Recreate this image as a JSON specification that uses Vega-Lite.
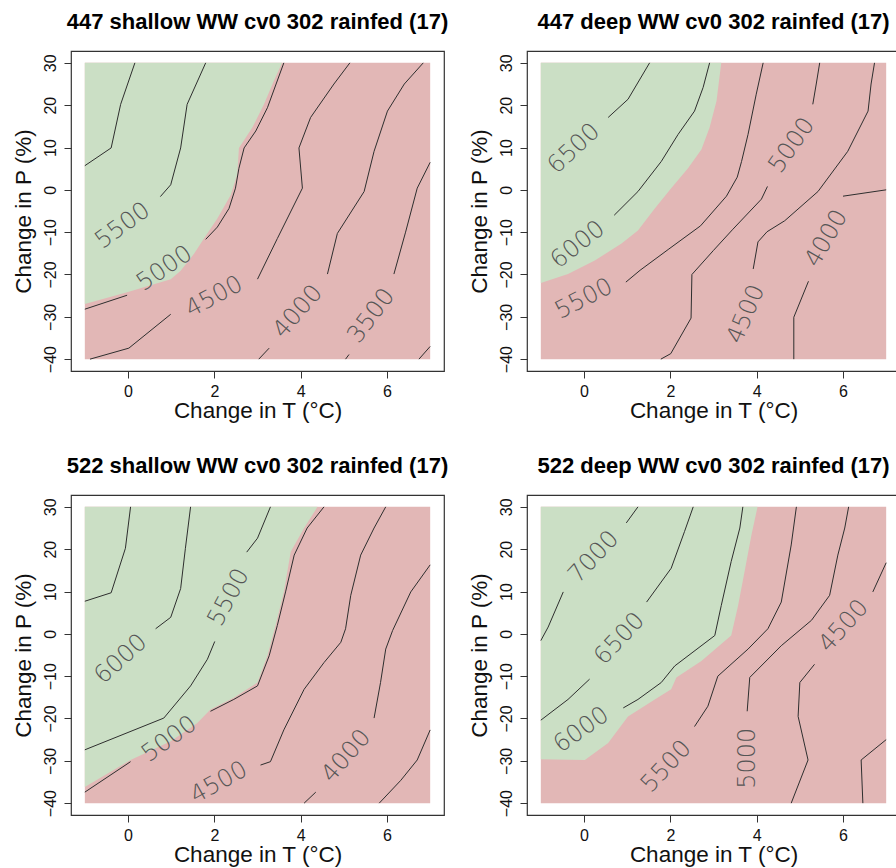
{
  "$schema": "https://vega.github.io/schema/vega-lite/v6.json",
  "padding": {"left": 11, "top": 10, "right": 0, "bottom": 0},
  "background": "white",
  "columns": 2,
  "spacing": {"row": 124, "column": 83},
  "bounds": "flush",
  "datasets": {
    "d": [
      {"p":"a","k":"r","x":-1,"y":-40},{"p":"b","k":"r","x":-1,"y":-40},{"p":"c","k":"r","x":-1,"y":-40},{"p":"d","k":"r","x":-1,"y":-40},
      {"p":"a","k":"g","x":-1,"y":-27.0},{"p":"a","k":"g","x":-0.02,"y":-24.2},{"p":"a","k":"g","x":0.99,"y":-21.1},{"p":"a","k":"g","x":1.22,"y":-19.1},{"p":"a","k":"g","x":1.53,"y":-15.1},{"p":"a","k":"g","x":1.76,"y":-11.5},{"p":"a","k":"g","x":2.07,"y":-6.8},{"p":"a","k":"g","x":2.38,"y":-1.2},{"p":"a","k":"g","x":2.53,"y":3.6},{"p":"a","k":"g","x":2.57,"y":9.9},{"p":"a","k":"g","x":2.88,"y":14.7},{"p":"a","k":"g","x":3.15,"y":20.2},{"p":"a","k":"g","x":3.38,"y":25.8},{"p":"a","k":"g","x":3.57,"y":30},
      {"p":"a","k":"l","s":"a1","x":-1,"y":5.7},{"p":"a","k":"l","s":"a1","x":-0.39,"y":9.9},{"p":"a","k":"l","s":"a1","x":-0.17,"y":20.2},{"p":"a","k":"l","s":"a1","x":0.16,"y":30},
      {"p":"a","k":"l","s":"a2","x":0.75,"y":-1.6},{"p":"a","k":"l","s":"a2","x":0.99,"y":1.2},{"p":"a","k":"l","s":"a2","x":1.22,"y":9.9},{"p":"a","k":"l","s":"a2","x":1.37,"y":20.2},{"p":"a","k":"l","s":"a2","x":1.80,"y":30},
      {"p":"a","k":"l","s":"a3","x":-1,"y":-28.2},{"p":"a","k":"l","s":"a3","x":-0.02,"y":-24.9},
      {"p":"a","k":"l","s":"a4","x":1.80,"y":-11.7},{"p":"a","k":"l","s":"a4","x":2.07,"y":-8.8},{"p":"a","k":"l","s":"a4","x":2.34,"y":-4.4},{"p":"a","k":"l","s":"a4","x":2.49,"y":0.4},{"p":"a","k":"l","s":"a4","x":2.57,"y":5.1},{"p":"a","k":"l","s":"a4","x":2.69,"y":9.9},{"p":"a","k":"l","s":"a4","x":2.96,"y":13.9},{"p":"a","k":"l","s":"a4","x":3.23,"y":19.4},{"p":"a","k":"l","s":"a4","x":3.61,"y":30},
      {"p":"a","k":"l","s":"a5","x":-0.88,"y":-40},{"p":"a","k":"l","s":"a5","x":0.02,"y":-37.4},{"p":"a","k":"l","s":"a5","x":0.99,"y":-29.4},
      {"p":"a","k":"l","s":"a6","x":3.0,"y":-21.1},{"p":"a","k":"l","s":"a6","x":3.46,"y":-11.5},{"p":"a","k":"l","s":"a6","x":4.04,"y":0.4},{"p":"a","k":"l","s":"a6","x":3.96,"y":9.9},{"p":"a","k":"l","s":"a6","x":4.23,"y":17.1},{"p":"a","k":"l","s":"a6","x":4.77,"y":25.0},{"p":"a","k":"l","s":"a6","x":5.14,"y":30},
      {"p":"a","k":"l","s":"a7","x":3.03,"y":-40},{"p":"a","k":"l","s":"a7","x":3.27,"y":-37.4},
      {"p":"a","k":"l","s":"a8","x":4.62,"y":-19.9},{"p":"a","k":"l","s":"a8","x":4.85,"y":-10.3},{"p":"a","k":"l","s":"a8","x":5.47,"y":-0.4},{"p":"a","k":"l","s":"a8","x":5.70,"y":9.1},{"p":"a","k":"l","s":"a8","x":6.01,"y":18.6},{"p":"a","k":"l","s":"a8","x":6.40,"y":25.0},{"p":"a","k":"l","s":"a8","x":6.84,"y":30},
      {"p":"a","k":"l","s":"a9","x":5.04,"y":-40},{"p":"a","k":"l","s":"a9","x":5.12,"y":-38.9},
      {"p":"a","k":"l","s":"a10","x":6.16,"y":-19.9},{"p":"a","k":"l","s":"a10","x":6.43,"y":-10.0},{"p":"a","k":"l","s":"a10","x":6.70,"y":0.4},{"p":"a","k":"l","s":"a10","x":7.0,"y":6.5},
      {"p":"a","k":"l","s":"a11","x":6.74,"y":-40},{"p":"a","k":"l","s":"a11","x":7.0,"y":-37.0},
      {"p":"a","k":"t","x":-0.12,"y":-8.5,"t":"5500","a":-36},
      {"p":"a","k":"t","x":0.85,"y":-18.6,"t":"5000","a":-34},
      {"p":"a","k":"t","x":2.0,"y":-25.3,"t":"4500","a":-28},
      {"p":"a","k":"t","x":3.94,"y":-28.8,"t":"4000","a":-49},
      {"p":"a","k":"t","x":5.64,"y":-29.8,"t":"3500","a":-53},

      {"p":"b","k":"g","x":-1,"y":-22.0},{"p":"b","k":"g","x":-0.37,"y":-19.9},{"p":"b","k":"g","x":0.25,"y":-16.7},{"p":"b","k":"g","x":0.87,"y":-12.7},{"p":"b","k":"g","x":1.25,"y":-9.6},{"p":"b","k":"g","x":1.64,"y":-4.4},{"p":"b","k":"g","x":2.02,"y":0.4},{"p":"b","k":"g","x":2.41,"y":5.1},{"p":"b","k":"g","x":2.72,"y":9.5},{"p":"b","k":"g","x":2.91,"y":14.7},{"p":"b","k":"g","x":3.07,"y":21.0},{"p":"b","k":"g","x":3.18,"y":30},
      {"p":"b","k":"l","s":"b1","x":0.56,"y":17.1},{"p":"b","k":"l","s":"b1","x":1.02,"y":21.4},{"p":"b","k":"l","s":"b1","x":1.52,"y":30},
      {"p":"b","k":"l","s":"b2","x":0.70,"y":-6.0},{"p":"b","k":"l","s":"b2","x":1.25,"y":-0.4},{"p":"b","k":"l","s":"b2","x":1.79,"y":6.7},{"p":"b","k":"l","s":"b2","x":2.18,"y":13.1},{"p":"b","k":"l","s":"b2","x":2.56,"y":18.6},{"p":"b","k":"l","s":"b2","x":2.76,"y":24.2},{"p":"b","k":"l","s":"b2","x":2.91,"y":30},
      {"p":"b","k":"l","s":"b3","x":0.97,"y":-21.8},{"p":"b","k":"l","s":"b3","x":1.3,"y":-19.0},{"p":"b","k":"l","s":"b3","x":1.95,"y":-14.1},{"p":"b","k":"l","s":"b3","x":2.7,"y":-8.5},{"p":"b","k":"l","s":"b3","x":3.3,"y":-1.5},{"p":"b","k":"l","s":"b3","x":3.55,"y":3.0},{"p":"b","k":"l","s":"b3","x":3.65,"y":6.7},{"p":"b","k":"l","s":"b3","x":3.80,"y":13.1},{"p":"b","k":"l","s":"b3","x":3.99,"y":22.6},{"p":"b","k":"l","s":"b3","x":4.15,"y":30},
      {"p":"b","k":"l","s":"b4","x":1.78,"y":-40},{"p":"b","k":"l","s":"b4","x":2.01,"y":-38.7},{"p":"b","k":"l","s":"b4","x":2.48,"y":-30.3},{"p":"b","k":"l","s":"b4","x":2.50,"y":-20.0},{"p":"b","k":"l","s":"b4","x":3.0,"y":-14.3},{"p":"b","k":"l","s":"b4","x":3.45,"y":-9.3},{"p":"b","k":"l","s":"b4","x":4.11,"y":-2.2},{"p":"b","k":"l","s":"b4","x":4.25,"y":0.8},
      {"p":"b","k":"l","s":"b5","x":5.30,"y":20.2},{"p":"b","k":"l","s":"b5","x":5.38,"y":25.0},{"p":"b","k":"l","s":"b5","x":5.46,"y":30},
      {"p":"b","k":"l","s":"b6","x":3.92,"y":-18.7},{"p":"b","k":"l","s":"b6","x":4.03,"y":-12.3},{"p":"b","k":"l","s":"b6","x":4.24,"y":-9.9},{"p":"b","k":"l","s":"b6","x":4.65,"y":-7.3},{"p":"b","k":"l","s":"b6","x":5.42,"y":-0.4},{"p":"b","k":"l","s":"b6","x":6.11,"y":9.1},{"p":"b","k":"l","s":"b6","x":6.58,"y":18.6},{"p":"b","k":"l","s":"b6","x":6.65,"y":25.0},{"p":"b","k":"l","s":"b6","x":6.73,"y":30},
      {"p":"b","k":"l","s":"b7","x":4.86,"y":-40},{"p":"b","k":"l","s":"b7","x":4.86,"y":-30.1},{"p":"b","k":"l","s":"b7","x":5.20,"y":-21.6},
      {"p":"b","k":"l","s":"b8","x":6.0,"y":-1.5},{"p":"b","k":"l","s":"b8","x":7.0,"y":0.0},
      {"p":"b","k":"t","x":-0.23,"y":9.7,"t":"6500","a":-43},
      {"p":"b","k":"t","x":-0.14,"y":-13.0,"t":"6000","a":-38},
      {"p":"b","k":"t","x":0.0,"y":-25.8,"t":"5500","a":-27},
      {"p":"b","k":"t","x":4.82,"y":10.5,"t":"5000","a":-55},
      {"p":"b","k":"t","x":3.76,"y":-29.4,"t":"4500","a":-67},
      {"p":"b","k":"t","x":5.62,"y":-11.5,"t":"4000","a":-60},

      {"p":"c","k":"g","x":-1,"y":-36.2},{"p":"c","k":"g","x":0.06,"y":-29.8},{"p":"c","k":"g","x":0.99,"y":-25.4},{"p":"c","k":"g","x":1.60,"y":-21.1},{"p":"c","k":"g","x":1.91,"y":-17.9},{"p":"c","k":"g","x":2.45,"y":-15.1},{"p":"c","k":"g","x":3.0,"y":-11.5},{"p":"c","k":"g","x":3.23,"y":-5.2},{"p":"c","k":"g","x":3.42,"y":2.0},{"p":"c","k":"g","x":3.61,"y":9.9},{"p":"c","k":"g","x":3.77,"y":19.4},{"p":"c","k":"g","x":4.08,"y":25.0},{"p":"c","k":"g","x":4.39,"y":30},
      {"p":"c","k":"l","s":"c1","x":-1,"y":7.7},{"p":"c","k":"l","s":"c1","x":-0.39,"y":9.7},{"p":"c","k":"l","s":"c1","x":-0.06,"y":20.2},{"p":"c","k":"l","s":"c1","x":0.06,"y":30},
      {"p":"c","k":"l","s":"c2","x":0.64,"y":1.2},{"p":"c","k":"l","s":"c2","x":0.99,"y":3.9},{"p":"c","k":"l","s":"c2","x":1.22,"y":10.7},{"p":"c","k":"l","s":"c2","x":1.33,"y":20.2},{"p":"c","k":"l","s":"c2","x":1.45,"y":30},
      {"p":"c","k":"l","s":"c3","x":-1,"y":-27.4},{"p":"c","k":"l","s":"c3","x":0.83,"y":-19.9},{"p":"c","k":"l","s":"c3","x":1.45,"y":-12.3},{"p":"c","k":"l","s":"c3","x":1.84,"y":-6.0},{"p":"c","k":"l","s":"c3","x":2.01,"y":-1.8},
      {"p":"c","k":"l","s":"c4","x":2.75,"y":19.3},{"p":"c","k":"l","s":"c4","x":3.0,"y":22.6},{"p":"c","k":"l","s":"c4","x":3.30,"y":30},
      {"p":"c","k":"l","s":"c5","x":-1,"y":-37.4},{"p":"c","k":"l","s":"c5","x":0.06,"y":-30.2},
      {"p":"c","k":"l","s":"c6","x":1.91,"y":-18.3},{"p":"c","k":"l","s":"c6","x":2.45,"y":-15.5},{"p":"c","k":"l","s":"c6","x":3.0,"y":-12.3},{"p":"c","k":"l","s":"c6","x":3.27,"y":-5.2},{"p":"c","k":"l","s":"c6","x":3.46,"y":2.0},{"p":"c","k":"l","s":"c6","x":3.65,"y":9.9},{"p":"c","k":"l","s":"c6","x":3.85,"y":18.6},{"p":"c","k":"l","s":"c6","x":4.15,"y":25.0},{"p":"c","k":"l","s":"c6","x":4.54,"y":30},
      {"p":"c","k":"l","s":"c7","x":3.07,"y":-31.0},{"p":"c","k":"l","s":"c7","x":3.30,"y":-30.2},{"p":"c","k":"l","s":"c7","x":3.61,"y":-22.7},{"p":"c","k":"l","s":"c7","x":4.08,"y":-13.1},{"p":"c","k":"l","s":"c7","x":4.54,"y":-6.8},{"p":"c","k":"l","s":"c7","x":4.93,"y":-2.0},{"p":"c","k":"l","s":"c7","x":5.04,"y":1.2},{"p":"c","k":"l","s":"c7","x":5.16,"y":9.1},{"p":"c","k":"l","s":"c7","x":5.39,"y":18.6},{"p":"c","k":"l","s":"c7","x":5.70,"y":25.0},{"p":"c","k":"l","s":"c7","x":5.97,"y":30},
      {"p":"c","k":"l","s":"c8","x":4.08,"y":-40},{"p":"c","k":"l","s":"c8","x":4.35,"y":-37.4},
      {"p":"c","k":"l","s":"c9","x":5.70,"y":-19.9},{"p":"c","k":"l","s":"c9","x":5.85,"y":-11.5},{"p":"c","k":"l","s":"c9","x":5.97,"y":-3.6},{"p":"c","k":"l","s":"c9","x":6.13,"y":0.8},{"p":"c","k":"l","s":"c9","x":6.55,"y":9.9},{"p":"c","k":"l","s":"c9","x":7.0,"y":16.3},
      {"p":"c","k":"l","s":"c10","x":5.82,"y":-40},{"p":"c","k":"l","s":"c10","x":6.32,"y":-34.6},{"p":"c","k":"l","s":"c10","x":6.70,"y":-29.8},{"p":"c","k":"l","s":"c10","x":7.0,"y":-22.7},
      {"p":"c","k":"t","x":-0.16,"y":-6.0,"t":"6000","a":-42},
      {"p":"c","k":"t","x":2.34,"y":8.6,"t":"5500","a":-62},
      {"p":"c","k":"t","x":0.96,"y":-24.9,"t":"5000","a":-36},
      {"p":"c","k":"t","x":2.11,"y":-35.2,"t":"4500","a":-29},
      {"p":"c","k":"t","x":5.06,"y":-28.9,"t":"4000","a":-49},

      {"p":"d","k":"g","x":-1,"y":-29.6},{"p":"d","k":"g","x":0.02,"y":-29.8},{"p":"d","k":"g","x":0.56,"y":-25.8},{"p":"d","k":"g","x":1.02,"y":-19.5},{"p":"d","k":"g","x":1.64,"y":-15.5},{"p":"d","k":"g","x":2.02,"y":-13.1},{"p":"d","k":"g","x":2.14,"y":-10.3},{"p":"d","k":"g","x":2.72,"y":-6.4},{"p":"d","k":"g","x":3.41,"y":-0.4},{"p":"d","k":"g","x":3.57,"y":6.7},{"p":"d","k":"g","x":3.72,"y":14.7},{"p":"d","k":"g","x":3.88,"y":23.4},{"p":"d","k":"g","x":4.02,"y":30},
      {"p":"d","k":"l","s":"d1","x":-1,"y":-1.6},{"p":"d","k":"l","s":"d1","x":-0.83,"y":1.6},{"p":"d","k":"l","s":"d1","x":-0.48,"y":9.9},
      {"p":"d","k":"l","s":"d2","x":0.98,"y":26.2},{"p":"d","k":"l","s":"d2","x":1.25,"y":30},
      {"p":"d","k":"l","s":"d3","x":-1,"y":-20.4},{"p":"d","k":"l","s":"d3","x":-0.37,"y":-15.5},{"p":"d","k":"l","s":"d3","x":0.13,"y":-10.7},
      {"p":"d","k":"l","s":"d4","x":1.45,"y":7.5},{"p":"d","k":"l","s":"d4","x":2.02,"y":15.5},{"p":"d","k":"l","s":"d4","x":2.33,"y":24.2},{"p":"d","k":"l","s":"d4","x":2.53,"y":30},
      {"p":"d","k":"l","s":"d5","x":0.91,"y":-17.5},{"p":"d","k":"l","s":"d5","x":1.25,"y":-15.5},{"p":"d","k":"l","s":"d5","x":1.79,"y":-11.5},{"p":"d","k":"l","s":"d5","x":2.10,"y":-7.6},{"p":"d","k":"l","s":"d5","x":3.03,"y":-0.4},{"p":"d","k":"l","s":"d5","x":3.18,"y":6.7},{"p":"d","k":"l","s":"d5","x":3.41,"y":17.1},{"p":"d","k":"l","s":"d5","x":3.61,"y":25.0},{"p":"d","k":"l","s":"d5","x":3.68,"y":30},
      {"p":"d","k":"l","s":"d6","x":2.56,"y":-21.9},{"p":"d","k":"l","s":"d6","x":2.87,"y":-17.1},{"p":"d","k":"l","s":"d6","x":3.10,"y":-10.0},{"p":"d","k":"l","s":"d6","x":3.80,"y":-3.6},{"p":"d","k":"l","s":"d6","x":4.26,"y":1.2},{"p":"d","k":"l","s":"d6","x":4.57,"y":7.5},{"p":"d","k":"l","s":"d6","x":4.80,"y":21.0},{"p":"d","k":"l","s":"d6","x":4.92,"y":30},
      {"p":"d","k":"l","s":"d7","x":3.78,"y":-18.3},{"p":"d","k":"l","s":"d7","x":3.84,"y":-10.3},{"p":"d","k":"l","s":"d7","x":4.57,"y":-2.8},{"p":"d","k":"l","s":"d7","x":5.27,"y":3.2},{"p":"d","k":"l","s":"d7","x":5.69,"y":9.1},{"p":"d","k":"l","s":"d7","x":5.88,"y":18.6},{"p":"d","k":"l","s":"d7","x":6.04,"y":25.0},{"p":"d","k":"l","s":"d7","x":6.13,"y":30},
      {"p":"d","k":"l","s":"d8","x":4.80,"y":-40},{"p":"d","k":"l","s":"d8","x":5.19,"y":-29.8},{"p":"d","k":"l","s":"d8","x":4.96,"y":-19.5},{"p":"d","k":"l","s":"d8","x":5.0,"y":-11.5},{"p":"d","k":"l","s":"d8","x":5.34,"y":-7.2},
      {"p":"d","k":"l","s":"d9","x":6.69,"y":9.9},{"p":"d","k":"l","s":"d9","x":7.0,"y":16.8},
      {"p":"d","k":"l","s":"d10","x":6.46,"y":-40},{"p":"d","k":"l","s":"d10","x":6.42,"y":-29.8},{"p":"d","k":"l","s":"d10","x":7.0,"y":-25.0},
      {"p":"d","k":"t","x":0.23,"y":18.1,"t":"7000","a":-47},
      {"p":"d","k":"t","x":0.83,"y":-1.2,"t":"6500","a":-47},
      {"p":"d","k":"t","x":-0.06,"y":-22.7,"t":"6000","a":-35},
      {"p":"d","k":"t","x":1.91,"y":-31.4,"t":"5500","a":-47},
      {"p":"d","k":"t","x":3.80,"y":-29.4,"t":"5000","a":-90},
      {"p":"d","k":"t","x":6.02,"y":1.8,"t":"4500","a":-48}
    ]
  },
  "concat": [
    {
      "title": "447 shallow WW cv0 302 rainfed (17)",
      "width": 373, "height": 320,
      "data": {"name": "d"},
      "encoding": {
        "x": {"field": "x", "type": "quantitative", "scale": {"domain": [-1.32, 7.32], "nice": false, "zero": false}, "axis": {"title": "Change in T (°C)", "values": [0, 2, 4, 6]}},
        "y": {"field": "y", "type": "quantitative", "scale": {"domain": [-42.8, 32.8], "nice": false, "zero": false}, "axis": {"title": "Change in P (%)", "values": [-40, -30, -20, -10, 0, 10, 20, 30]}}
      },
      "layer": [
        {"transform": [{"filter": "datum.p == 'a' && datum.k == 'r'"}], "mark": {"type": "rect", "color": "#e2b7b6"}, "encoding": {"x2": {"datum": 7}, "y2": {"datum": 30}}},
        {"transform": [{"filter": "datum.p == 'a' && datum.k == 'g'"}], "mark": {"type": "area", "color": "#cbdfc5"}, "encoding": {"y2": {"datum": 30}}},
        {"transform": [{"filter": "datum.p == 'a' && datum.k == 'l'"}], "mark": {"type": "line", "color": "#2e2e2e", "strokeWidth": 1}, "encoding": {"detail": {"field": "s"}, "order": {"field": "y"}}},
        {"transform": [{"filter": "datum.p == 'a' && datum.k == 't'"}], "mark": {"type": "text", "font": "DejaVu Sans", "fontSize": 24, "fontWeight": 200, "color": "#555555"}, "encoding": {"text": {"field": "t"}, "angle": {"field": "a", "type": "quantitative", "scale": null}}}
      ]
    },
    {
      "title": "447 deep WW cv0 302 rainfed (17)",
      "width": 373, "height": 320,
      "data": {"name": "d"},
      "encoding": {
        "x": {"field": "x", "type": "quantitative", "scale": {"domain": [-1.32, 7.32], "nice": false, "zero": false}, "axis": {"title": "Change in T (°C)", "values": [0, 2, 4, 6]}},
        "y": {"field": "y", "type": "quantitative", "scale": {"domain": [-42.8, 32.8], "nice": false, "zero": false}, "axis": {"title": "Change in P (%)", "values": [-40, -30, -20, -10, 0, 10, 20, 30]}}
      },
      "layer": [
        {"transform": [{"filter": "datum.p == 'b' && datum.k == 'r'"}], "mark": {"type": "rect", "color": "#e2b7b6"}, "encoding": {"x2": {"datum": 7}, "y2": {"datum": 30}}},
        {"transform": [{"filter": "datum.p == 'b' && datum.k == 'g'"}], "mark": {"type": "area", "color": "#cbdfc5"}, "encoding": {"y2": {"datum": 30}}},
        {"transform": [{"filter": "datum.p == 'b' && datum.k == 'l'"}], "mark": {"type": "line", "color": "#2e2e2e", "strokeWidth": 1}, "encoding": {"detail": {"field": "s"}, "order": {"field": "y"}}},
        {"transform": [{"filter": "datum.p == 'b' && datum.k == 't'"}], "mark": {"type": "text", "font": "DejaVu Sans", "fontSize": 24, "fontWeight": 200, "color": "#555555"}, "encoding": {"text": {"field": "t"}, "angle": {"field": "a", "type": "quantitative", "scale": null}}}
      ]
    },
    {
      "title": "522 shallow WW cv0 302 rainfed (17)",
      "width": 373, "height": 320,
      "data": {"name": "d"},
      "encoding": {
        "x": {"field": "x", "type": "quantitative", "scale": {"domain": [-1.32, 7.32], "nice": false, "zero": false}, "axis": {"title": "Change in T (°C)", "values": [0, 2, 4, 6]}},
        "y": {"field": "y", "type": "quantitative", "scale": {"domain": [-42.8, 32.8], "nice": false, "zero": false}, "axis": {"title": "Change in P (%)", "values": [-40, -30, -20, -10, 0, 10, 20, 30]}}
      },
      "layer": [
        {"transform": [{"filter": "datum.p == 'c' && datum.k == 'r'"}], "mark": {"type": "rect", "color": "#e2b7b6"}, "encoding": {"x2": {"datum": 7}, "y2": {"datum": 30}}},
        {"transform": [{"filter": "datum.p == 'c' && datum.k == 'g'"}], "mark": {"type": "area", "color": "#cbdfc5"}, "encoding": {"y2": {"datum": 30}}},
        {"transform": [{"filter": "datum.p == 'c' && datum.k == 'l'"}], "mark": {"type": "line", "color": "#2e2e2e", "strokeWidth": 1}, "encoding": {"detail": {"field": "s"}, "order": {"field": "y"}}},
        {"transform": [{"filter": "datum.p == 'c' && datum.k == 't'"}], "mark": {"type": "text", "font": "DejaVu Sans", "fontSize": 24, "fontWeight": 200, "color": "#555555"}, "encoding": {"text": {"field": "t"}, "angle": {"field": "a", "type": "quantitative", "scale": null}}}
      ]
    },
    {
      "title": "522 deep WW cv0 302 rainfed (17)",
      "width": 373, "height": 320,
      "data": {"name": "d"},
      "encoding": {
        "x": {"field": "x", "type": "quantitative", "scale": {"domain": [-1.32, 7.32], "nice": false, "zero": false}, "axis": {"title": "Change in T (°C)", "values": [0, 2, 4, 6]}},
        "y": {"field": "y", "type": "quantitative", "scale": {"domain": [-42.8, 32.8], "nice": false, "zero": false}, "axis": {"title": "Change in P (%)", "values": [-40, -30, -20, -10, 0, 10, 20, 30]}}
      },
      "layer": [
        {"transform": [{"filter": "datum.p == 'd' && datum.k == 'r'"}], "mark": {"type": "rect", "color": "#e2b7b6"}, "encoding": {"x2": {"datum": 7}, "y2": {"datum": 30}}},
        {"transform": [{"filter": "datum.p == 'd' && datum.k == 'g'"}], "mark": {"type": "area", "color": "#cbdfc5"}, "encoding": {"y2": {"datum": 30}}},
        {"transform": [{"filter": "datum.p == 'd' && datum.k == 'l'"}], "mark": {"type": "line", "color": "#2e2e2e", "strokeWidth": 1}, "encoding": {"detail": {"field": "s"}, "order": {"field": "y"}}},
        {"transform": [{"filter": "datum.p == 'd' && datum.k == 't'"}], "mark": {"type": "text", "font": "DejaVu Sans", "fontSize": 24, "fontWeight": 200, "color": "#555555"}, "encoding": {"text": {"field": "t"}, "angle": {"field": "a", "type": "quantitative", "scale": null}}}
      ]
    }
  ],
  "config": {
    "view": {"stroke": "#333333", "strokeWidth": 1.2},
    "axis": {"domain": false, "grid": false, "ticks": true, "tickSize": 7, "tickColor": "#333333", "tickWidth": 1, "labelFont": "Liberation Sans", "labelFontSize": 16, "labelColor": "#111111", "titleFont": "Liberation Sans", "titleFontSize": 22.5, "titleFontWeight": "normal", "titleColor": "#111111"},
    "axisX": {"labelPadding": 5, "titlePadding": 0},
    "axisY": {"labelAngle": -90, "labelAlign": "center", "labelBaseline": "bottom", "labelPadding": 6, "titlePadding": 7},
    "title": {"font": "Liberation Sans", "fontSize": 22, "fontWeight": "bold", "color": "#000000", "anchor": "middle", "offset": 17, "baseline": "alphabetic"}
  }
}
